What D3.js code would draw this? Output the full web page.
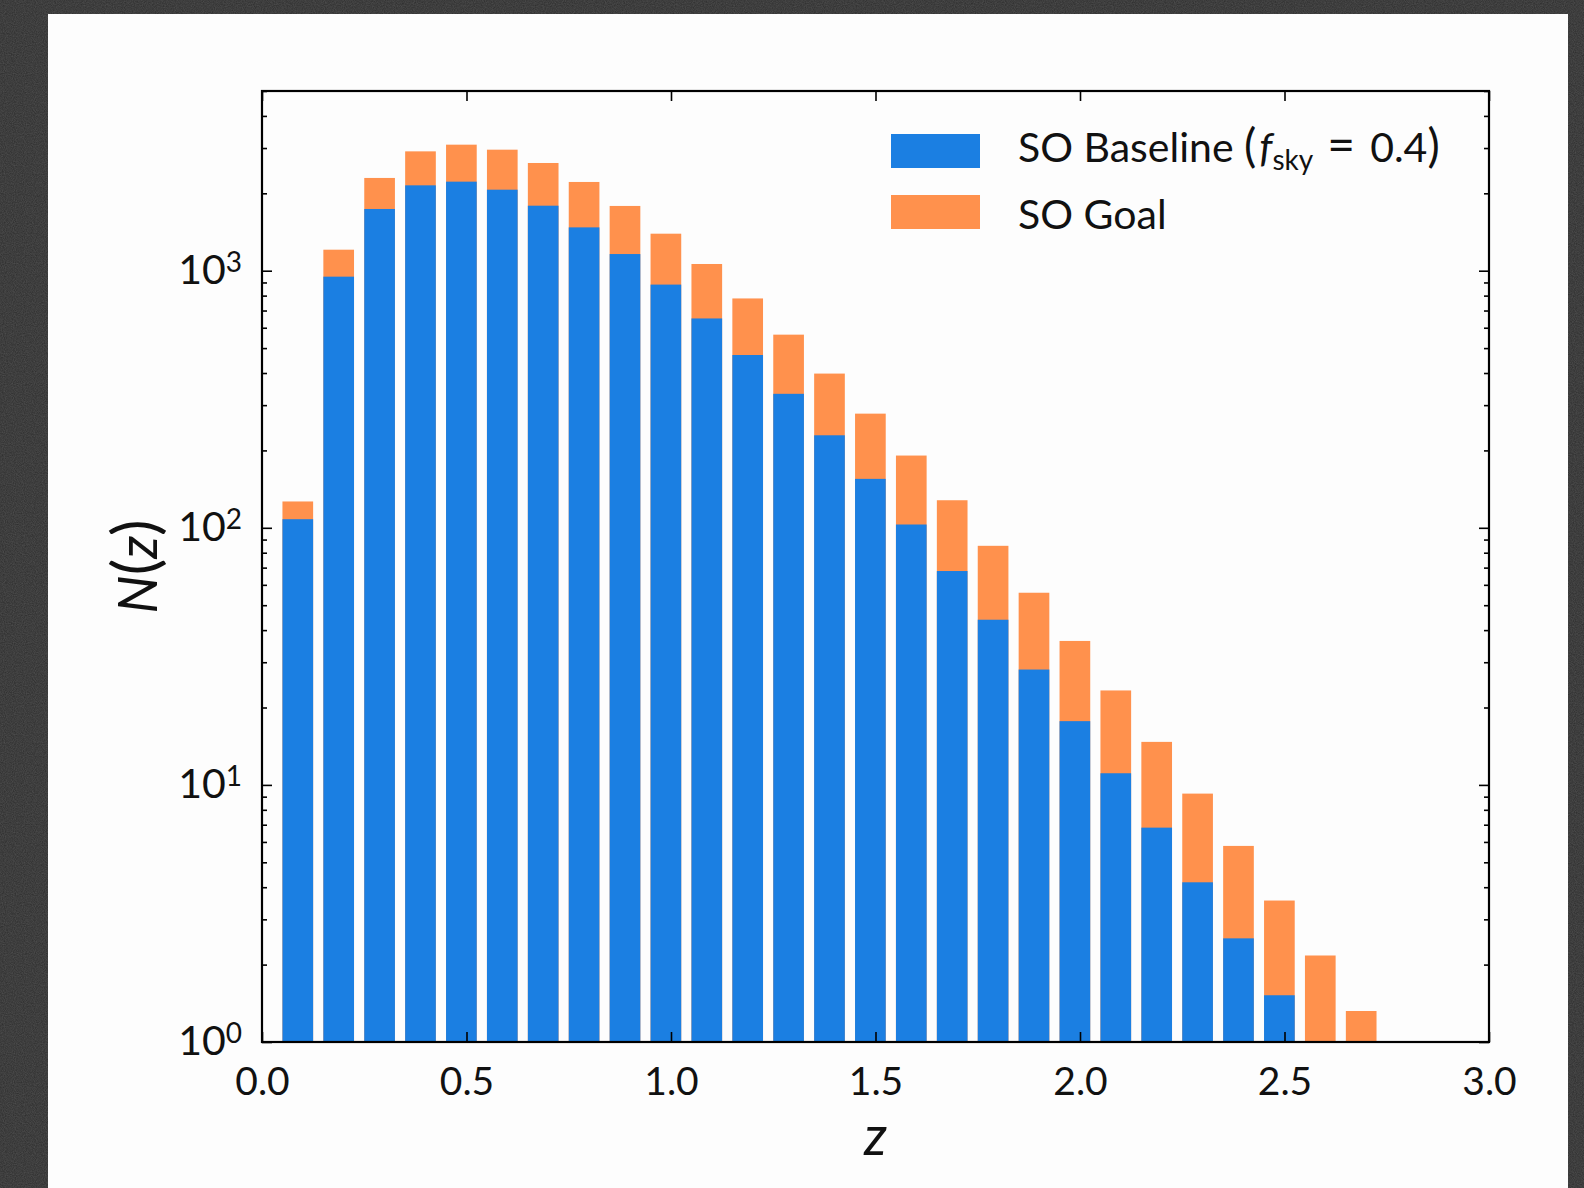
<!DOCTYPE html>
<html>
<head>
<meta charset="utf-8">
<script src="https://cdn.jsdelivr.net/npm/d3@7"></script>
<style>
  html, body { margin: 0; padding: 0; background: #2c2c2c; }
  svg { display: block; }
  text { font-family: Lato, "Noto Sans", sans-serif; fill: #111; }
</style>
</head>
<body>
<svg width="1584" height="1188"></svg>
<script>
// redshift bins (left edge of each bar)
const binStart = [0.05, 0.15, 0.25, 0.35, 0.45, 0.55, 0.65, 0.75, 0.85, 0.95,
                  1.05, 1.15, 1.25, 1.35, 1.45, 1.55, 1.65, 1.75, 1.85, 1.95,
                  2.05, 2.15, 2.25, 2.35, 2.45, 2.55, 2.65];
const barWidth = 0.075;

// counts
const baseline = [108, 948, 1738, 2148, 2220, 2066, 1790, 1474, 1161, 883,
                  652, 470, 332, 229, 155, 103, 67.9, 43.9, 28.1, 17.7,
                  11.1, 6.82, 4.18, 2.53, 1.52, 0, 0];
const goal = [126.6, 1207, 2295, 2912, 3092, 2956, 2624, 2214, 1786, 1393,
              1062, 780, 564, 398, 278, 191, 128, 85.1, 55.9, 36.3,
              23.3, 14.7, 9.25, 5.79, 3.55, 2.17, 1.32];

const seriesNames = ["SO Baseline", "SO Goal"];
const colors = ["#1b7fe2", "#ff914d"];

const xTicks = [0.0, 0.5, 1.0, 1.5, 2.0, 2.5, 3.0];
const yTicks = [1, 10, 100, 1000];
const yMinor = [2, 3, 4, 5, 6, 7, 8, 9, 20, 30, 40, 50, 60, 70, 80, 90,
                200, 300, 400, 500, 600, 700, 800, 900, 2000, 3000, 4000, 5000];

const svg = d3.select("svg");
const W = 1584, H = 1188;

// page background + white card
const defs = svg.append("defs");
const f = defs.append("filter").attr("id", "grain");
f.append("feTurbulence").attr("type", "fractalNoise").attr("baseFrequency", 0.9).attr("numOctaves", 2).attr("seed", 3);
f.append("feColorMatrix").attr("type", "matrix")
  .attr("values", "0 0 0 0 0.5  0 0 0 0 0.5  0 0 0 0 0.5  0 0 0 0.25 0");
svg.append("rect").attr("width", W).attr("height", H).attr("fill", "#2c2c2c");
svg.append("rect").attr("width", W).attr("height", H).attr("filter", "url(#grain)");
svg.append("rect").attr("x", 48).attr("y", 14).attr("width", 1520).attr("height", H - 14).attr("fill", "#fdfdfd");

const pLeft = 262, pTop = 91, pRight = 1489, pBottom = 1042;
const x = d3.scaleLinear().domain([0, 3]).range([pLeft, pRight]);
const y = d3.scaleLog().domain([1, 5000]).range([pBottom, pTop]);

// bars: goal behind, baseline on top
const plot = svg.append("g");
plot.selectAll("rect.goal")
  .data(binStart.map((z, i) => ({ z, v: goal[i] })))
  .join("rect").attr("class", "goal")
  .attr("x", d => x(d.z))
  .attr("width", d => x(d.z + barWidth) - x(d.z))
  .attr("y", d => y(d.v))
  .attr("height", d => y(1) - y(d.v))
  .attr("fill", colors[1]);

plot.selectAll("rect.base")
  .data(binStart.map((z, i) => ({ z, v: baseline[i] })).filter(d => d.v >= 1))
  .join("rect").attr("class", "base")
  .attr("x", d => x(d.z))
  .attr("width", d => x(d.z + barWidth) - x(d.z))
  .attr("y", d => y(d.v))
  .attr("height", d => y(1) - y(d.v))
  .attr("fill", colors[0]);

// axes, ticks pointing inward on all four sides
function style(g) {
  g.select(".domain").remove();
  g.selectAll(".tick line").attr("stroke", "#000").attr("stroke-width", 1.6);
}
const xAxis = svg.append("g").attr("transform", `translate(0,${pBottom})`)
  .call(d3.axisBottom(x).tickValues(xTicks).tickSizeInner(-10).tickSizeOuter(0).tickFormat(d3.format(".1f")))
  .call(style);
xAxis.selectAll("text").attr("y", 53).attr("dy", null)
  .style("font-size", "39px").attr("fill", "#111");

svg.append("g").attr("transform", `translate(0,${pTop})`)
  .call(d3.axisTop(x).tickValues(xTicks).tickSizeInner(-10).tickSizeOuter(0).tickFormat(""))
  .call(style);

const yAxis = svg.append("g").attr("transform", `translate(${pLeft},0)`)
  .call(d3.axisLeft(y).tickValues(yTicks).tickSizeInner(-10).tickSizeOuter(0).tickFormat(""))
  .call(style);
yAxis.selectAll(".tick").each(function (d) {
  const t = d3.select(this).append("text")
    .attr("x", -20).attr("dy", "0.3em").attr("text-anchor", "end")
    .style("font-size", "41px").attr("fill", "#111");
  t.append("tspan").text("10");
  t.append("tspan").attr("dy", "-0.42em").style("font-size", "28px").text(Math.round(Math.log10(d)));
});
svg.append("g").attr("transform", `translate(${pLeft},0)`)
  .call(d3.axisLeft(y).tickValues(yMinor).tickSizeInner(-5).tickSizeOuter(0).tickFormat(""))
  .call(style);
svg.append("g").attr("transform", `translate(${pRight},0)`)
  .call(d3.axisRight(y).tickValues(yTicks).tickSizeInner(-10).tickSizeOuter(0).tickFormat(""))
  .call(style);
svg.append("g").attr("transform", `translate(${pRight},0)`)
  .call(d3.axisRight(y).tickValues(yMinor).tickSizeInner(-5).tickSizeOuter(0).tickFormat(""))
  .call(style);

// frame
svg.append("rect").attr("x", pLeft).attr("y", pTop)
  .attr("width", pRight - pLeft).attr("height", pBottom - pTop)
  .attr("fill", "none").attr("stroke", "#000").attr("stroke-width", 2.2);

// axis titles
svg.append("text").attr("x", (pLeft + pRight) / 2).attr("y", 1155)
  .attr("text-anchor", "middle").style("font-size", "54px").style("font-style", "italic")
  .text("z");
const yl = svg.append("text")
  .attr("transform", `translate(157,${(pTop + pBottom) / 2}) rotate(-90)`)
  .attr("text-anchor", "middle").style("font-size", "54px");
yl.append("tspan").style("font-style", "italic").text("N");
yl.append("tspan").style("font-size", "62px").text("(");
yl.append("tspan").style("font-style", "italic").text("z");
yl.append("tspan").style("font-size", "62px").text(")");

// legend
const legend = svg.append("g");
const rowY = [151, 212];
const textY = [162, 229];
seriesNames.forEach((name, i) => {
  legend.append("rect").attr("x", 891).attr("y", rowY[i] - 17)
    .attr("width", 89).attr("height", 34).attr("fill", colors[i]);
  const t = legend.append("text").attr("x", 1018).attr("y", textY[i])
    .style("font-size", "41px");
  t.append("tspan").text(name);
  if (i === 0) {
    t.append("tspan").text(" ");
    t.append("tspan").style("font-size", "46px").text("(");
    t.append("tspan").attr("dx", 3).style("font-style", "italic").text("f");
    t.append("tspan").attr("dy", 8).style("font-size", "28px").text("sky");
    t.append("tspan").attr("dy", -8).attr("dx", 14).style("font-size", "48px").text("=");
    t.append("tspan").attr("dx", 15).text("0.4");
    t.append("tspan").style("font-size", "46px").text(")");
  }
});
</script>
</body>
</html>
